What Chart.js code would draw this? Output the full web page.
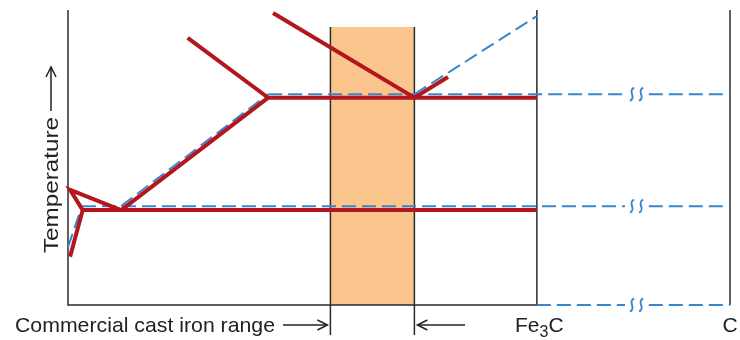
<!DOCTYPE html>
<html>
<head>
<meta charset="utf-8">
<script src="https://cdn.jsdelivr.net/npm/chart.js@4"></script>
<style>
  html, body { margin: 0; padding: 0; background: #fff; }
  #wrap { width: 740px; height: 340px; }
</style>
</head>
<body>
<div id="wrap"><canvas id="chart"></canvas></div>
<script>
// ===== DADOS (composicao wt% C, temperatura °C - esquematico) =====
const xFe3C = 6.70, xC = 9.46;
const tMin = 370, tMax = 1480;
const castIronRange = [3.75, 4.95];
const castIronTop = 1416;
const breakMarks = [8.06, 8.19];
const breakLevels = [370, 742, 1163];

// Fe-Fe3C (vermelho, continuo)
const redLowLeft = [[0.03, 552], [0.21, 727], [0.03, 803], [0.76, 727]];
const redEutectoid = [[0.21, 727], [xFe3C, 727]];
const redAcm = [[0.76, 727], [2.86, 1150], [1.71, 1375]];
const redEutectic = [[2.86, 1150], [xFe3C, 1150]];
const redLiquidus = [[2.93, 1469], [4.95, 1150], [5.43, 1228]];

// Fe-C grafite (azul, tracejado) - null = quebra do eixo
const blueLowLeft = [[0, 588], [0.2, 742]];
const blueEutectoid = [[0.2, 742], [7.96, 742], null, [8.3, 742], [xC, 742]];
const blueAcm = [[0.76, 742], [2.86, 1163]];
const blueEutectic = [[2.86, 1163], [7.96, 1163], null, [8.3, 1163], [xC, 1163]];
const blueLiquidus = [[4.95, 1163], [xFe3C, 1457]];
const blueBase = [[xFe3C, tMin], [7.96, tMin], null, [8.3, tMin], [xC, tMin]];

// Moldura
const frameAxes = [[0, tMax], [0, tMin], [xFe3C, tMin]];
const frameFe3C = [[xFe3C, tMin], [xFe3C, tMax]];
const frameC = [[xC, tMin], [xC, tMax]];
const rangeLeft = [[castIronRange[0], 257], [castIronRange[0], castIronTop]];
const rangeRight = [[castIronRange[1], 257], [castIronRange[1], castIronTop]];

const RED = '#b3161e', BLUE = '#3a86cc', DARK = '#2b2b2b', ORANGE = '#fbc68e';
const FONT = '"Liberation Sans", Arial, sans-serif';

// quebra uma lista em segmentos nos null
function segs(pts) {
  const out = [[]];
  pts.forEach(p => { if (p === null) out.push([]); else out[out.length - 1].push({ x: p[0], y: p[1] }); });
  return out.filter(s => s.length);
}

const datasets = [];
function add(pts, style) {
  segs(pts).forEach(s => datasets.push(Object.assign({ data: s, showLine: true, pointRadius: 0, fill: false, clip: false }, style)));
}

[redLowLeft, redEutectoid, redAcm, redEutectic, redLiquidus].forEach(p =>
  add(p, { borderColor: RED, borderWidth: 4, order: 1, borderJoinStyle: 'miter' }));
[blueLowLeft, blueEutectoid, blueAcm, blueEutectic, blueLiquidus, blueBase].forEach(p =>
  add(p, { borderColor: BLUE, borderWidth: 2, borderDash: [14, 6], order: 2 }));
[frameAxes, frameFe3C, frameC, rangeLeft, rangeRight].forEach(p =>
  add(p, { borderColor: DARK, borderWidth: 1.5, order: 3 }));

// faixa do ferro fundido comercial
datasets.push({
  data: [{ x: castIronRange[0], y: castIronTop }, { x: castIronRange[1], y: castIronTop }],
  showLine: true, pointRadius: 0, borderWidth: 0, fill: 'start', backgroundColor: ORANGE, order: 10
});

function arrowHead(ctx, x, y, dir) {
  ctx.beginPath();
  ctx.moveTo(x - dir * 10, y - 5);
  ctx.lineTo(x, y);
  ctx.lineTo(x - dir * 10, y + 5);
  ctx.stroke();
}

// texto esticado para uma largura alvo
function fitText(ctx, text, x, y, width) {
  const w = ctx.measureText(text).width;
  ctx.save();
  ctx.translate(x, y);
  ctx.scale(width / w, 1);
  ctx.fillText(text, 0, 0);
  ctx.restore();
}

const labelsPlugin = {
  id: 'labels',
  afterDraw(chart) {
    const ctx = chart.ctx, xs = chart.scales.x, ys = chart.scales.y;
    ctx.save();

    // quebras do eixo
    ctx.strokeStyle = BLUE;
    ctx.lineWidth = 2;
    breakLevels.forEach(t => {
      const y = ys.getPixelForValue(t);
      breakMarks.forEach(m => {
        const x = xs.getPixelForValue(m);
        ctx.beginPath();
        ctx.moveTo(x + 2, y - 6.5);
        ctx.bezierCurveTo(x - 5, y - 3, x + 5, y + 3, x - 2, y + 6.5);
        ctx.stroke();
      });
    });

    ctx.fillStyle = '#222';
    ctx.strokeStyle = '#222';
    ctx.lineWidth = 1.5;
    ctx.font = '21px ' + FONT;
    ctx.textBaseline = 'alphabetic';
    ctx.textAlign = 'left';
    const yb = 332, ya = 325;

    // Commercial cast iron range ->
    fitText(ctx, 'Commercial cast iron range', 15, yb, 260);
    const xl = xs.getPixelForValue(castIronRange[0]) - 3;
    ctx.beginPath(); ctx.moveTo(283, ya); ctx.lineTo(xl, ya); ctx.stroke();
    arrowHead(ctx, xl, ya, 1);

    // <-
    const xr = xs.getPixelForValue(castIronRange[1]) + 3;
    ctx.beginPath(); ctx.moveTo(465, ya); ctx.lineTo(xr, ya); ctx.stroke();
    arrowHead(ctx, xr, ya, -1);

    // Fe3C
    let x = 515;
    ctx.fillText('Fe', x, yb); x += ctx.measureText('Fe').width;
    ctx.font = '16px ' + FONT;
    ctx.fillText('3', x, yb + 5); x += ctx.measureText('3').width;
    ctx.font = '21px ' + FONT;
    ctx.fillText('C', x, yb);

    // C
    ctx.textAlign = 'center';
    ctx.fillText('C', xs.getPixelForValue(xC), yb);

    // Temperature ->
    ctx.translate(58, 253);
    ctx.rotate(-Math.PI / 2);
    ctx.textAlign = 'left';
    fitText(ctx, 'Temperature', 0, 0, 136);
    ctx.beginPath(); ctx.moveTo(142, -7); ctx.lineTo(186, -7); ctx.stroke();
    arrowHead(ctx, 186, -7, 1);
    ctx.restore();
  }
};

new Chart(document.getElementById('chart'), {
  type: 'scatter',
  data: { datasets },
  options: {
    responsive: true,
    maintainAspectRatio: false,
    animation: false,
    layout: { padding: { left: 68, right: 10, top: 10, bottom: 35 } },
    plugins: { legend: { display: false }, tooltip: { enabled: false } },
    scales: {
      x: { type: 'linear', min: 0, max: xC, display: false },
      y: { type: 'linear', min: tMin, max: tMax, display: false }
    }
  },
  plugins: [labelsPlugin]
});
</script>
</body>
</html>
